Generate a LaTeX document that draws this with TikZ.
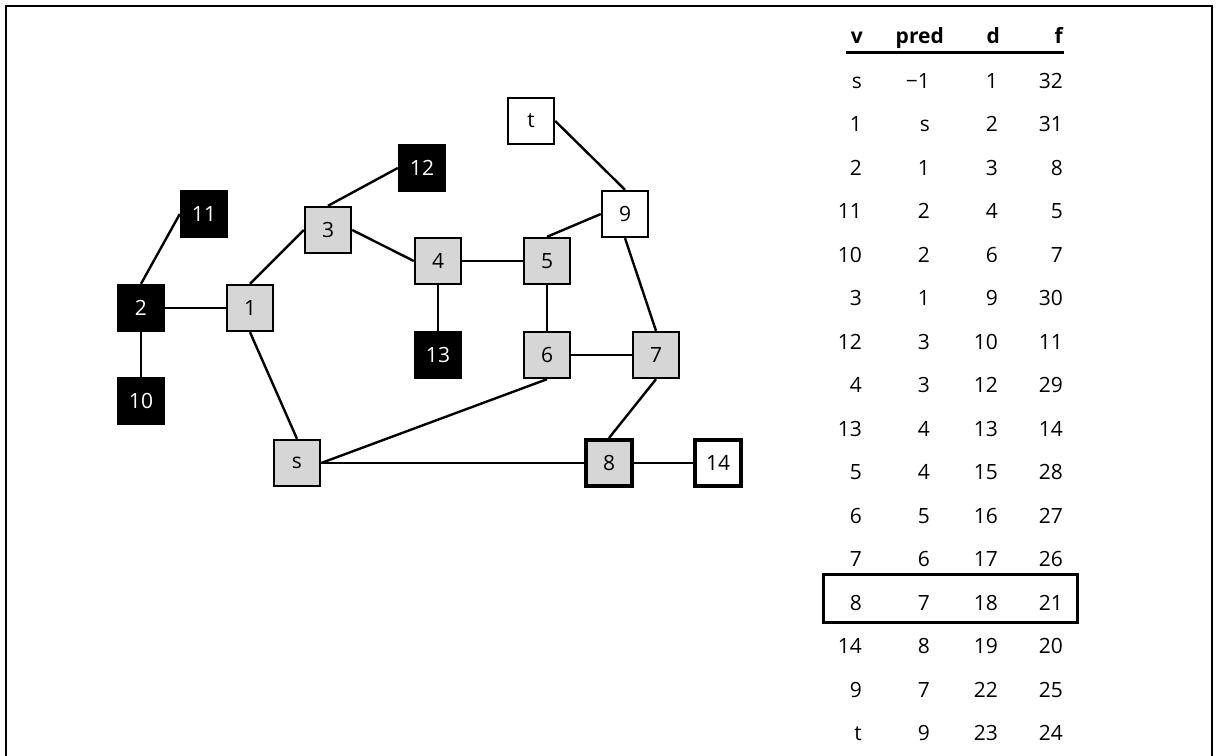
\documentclass[tikz,border=0pt]{standalone}
\usepackage{fontspec}
\setmainfont{Open Sans}
\usepackage{tikz}
\usetikzlibrary{positioning}

\tikzset{
  vert/.style={draw=black, line width=2.4pt, minimum size=46pt, inner sep=0pt, font=\fontsize{21}{25}\selectfont},
  grey/.style={vert, fill=black!16},
  dark/.style={vert, fill=black, text=white},
  open/.style={vert, fill=white},
  cur/.style={line width=4pt},
  edge/.style={line width=2.4pt},
  cell/.style={anchor=base east, inner sep=0pt, font=\fontsize{21}{25}\selectfont}
}

\begin{document}
\begin{tikzpicture}[x=1pt, y=-1pt]
        \useasboundingbox (0,0) rectangle (1217,755);
        % frame
        \draw[line width=1.5pt] (6,770) -- (6,6) -- (1212,6) -- (1212,770);

        % vertices
        \node[grey] (vs) at (297,463) {s};
        \node[grey] (v1) at (250,308) {1};
        \node[dark] (v2) at (141,308) {2};
        \node[grey] (v3) at (328,230) {3};
        \node[grey] (v4) at (438,261) {4};
        \node[grey] (v5) at (547,261) {5};
        \node[grey] (v6) at (547,355) {6};
        \node[grey] (v7) at (656,355) {7};
        \node[grey, cur] (v8) at (609,463) {8};
        \node[open] (v9) at (625,214) {9};
        \node[dark] (v10) at (141,401) {10};
        \node[dark] (v11) at (204,214) {11};
        \node[dark] (v12) at (422,168) {12};
        \node[dark] (v13) at (438,355) {13};
        \node[open, cur] (v14) at (718,463) {14};
        \node[open] (vt) at (531,121) {t};

        % edges
        \foreach \a/\b in {v2.north/v11.west, v2.east/v1.west, v2.south/v10.north,
                           v1.north/v3.west, v1.south/vs.north, v3.north/v12.west,
                           v3.east/v4.west, v4.east/v5.west, v4.south/v13.north,
                           v5.north/v9.west, v5.south/v6.north, v6.east/v7.west,
                           v6.south/vs.east, v9.south/v7.north, v7.south/v8.north,
                           vs.east/v8.west, v8.east/v14.west, vt.east/v9.north}
          \draw[edge] (\a) -- (\b);

        % table head
        \node[cell, font=\fontsize{21}{25}\selectfont\bfseries] (hv) at (863,43) {v};
        \node[cell, font=\fontsize{21}{25}\selectfont\bfseries] (hp) at (944,43) {pred};
        \node[cell, font=\fontsize{21}{25}\selectfont\bfseries] (hd) at (1000,43) {d};
        \node[cell, font=\fontsize{21}{25}\selectfont\bfseries] (hf) at (1063,43) {f};
        \coordinate (rl) at (846,52);
        \coordinate (rr) at (1064,52);
        \draw[line width=3pt] (rl) -- (rr);

        % table rows
        \foreach \v/\p/\d/\f [count=\i from 0] in {s/{\symbol{"2212}}1/1/32, 1/s/2/31, 2/1/3/8, 11/2/4/5,
                              10/2/6/7, 3/1/9/30, 12/3/10/11, 4/3/12/29, 13/4/13/14,
                              5/4/15/28, 6/5/16/27, 7/6/17/26, 8/7/18/21, 14/8/19/20,
                              9/7/22/25, t/9/23/24}
        {
          \node[cell] (rv\i) at (862,88+43.5*\i) {\v};
          \node[cell] (rp\i) at (930,88+43.5*\i) {\p};
          \node[cell] (rd\i) at (998,88+43.5*\i) {\d};
          \node[cell] (rf\i) at (1063,88+43.5*\i) {\f};
        }
        % current row
        \draw[line width=3pt] (823,574) rectangle (1077,622);
\end{tikzpicture}
\end{document}
